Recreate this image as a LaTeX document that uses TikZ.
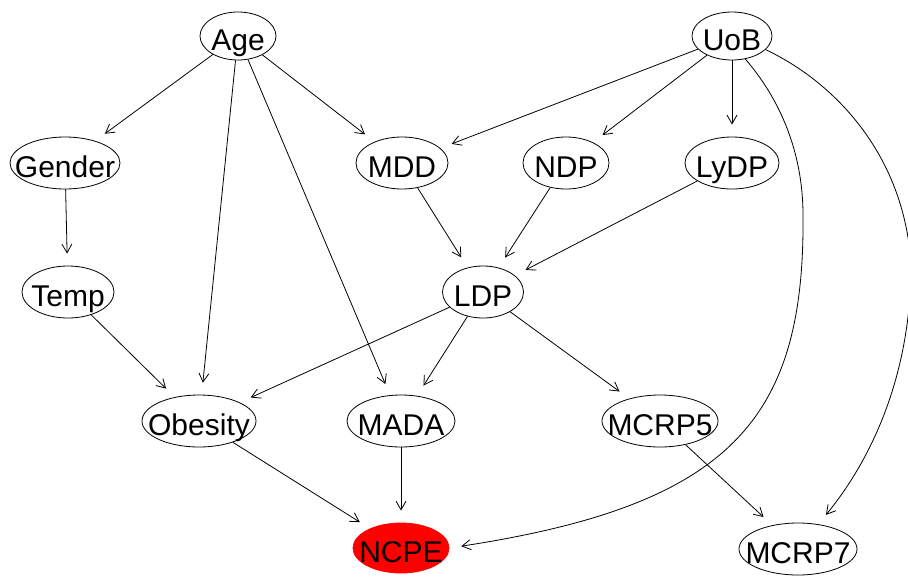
\documentclass[tikz,border=0pt]{standalone}
\usepackage{fontspec}
\setmainfont{Liberation Sans}
\usetikzlibrary{shapes.geometric,arrows.meta}
\newcommand\lbl[1]{\makebox[0pt]{#1}}
\begin{document}
\begin{tikzpicture}[x=1pt,y=-1pt,
  nd/.style={ellipse, draw, line width=0.8pt, inner sep=0pt,
    minimum width=#1, minimum height=52pt,
    text height=30pt, text depth=2pt, font=\fontsize{30}{34}\selectfont},
  edge/.style={line width=0.8pt, -{Straight Barb[length=8.7pt,width=10pt]},
    shorten >=12pt}]
\useasboundingbox (0,0) rectangle (908,579);
\clip (0,0) rectangle (908,579);

% nodes
\node[nd=76pt, minimum height=48pt]  (Age)     at (238,36)  {\lbl{Age}};
\node[nd=80pt, minimum height=48pt]  (UoB)     at (732,36)  {\lbl{UoB}};
\node[nd=110pt] (Gender)  at (65,163)  {\lbl{Gender}};
\node[nd=92pt]  (MDD)     at (402,163) {\lbl{MDD}};
\node[nd=86pt]  (NDP)     at (566,163) {\lbl{NDP}};
\node[nd=94pt]  (LyDP)    at (732,163) {\lbl{LyDP}};
\node[nd=92pt]  (Temp)    at (68,292)  {\lbl{Temp}};
\node[nd=81pt]  (LDP)     at (483,292) {\lbl{LDP}};
\node[nd=114pt] (Obesity) at (199,421) {\lbl{Obesity}};
\node[nd=108pt] (MADA)    at (401,421) {\lbl{MADA}};
\node[nd=116pt] (MCRP5)   at (660,421) {\lbl{MCRP5}};
\node[nd=96pt, minimum height=50pt, draw=red, fill=red] (NCPE) at (401,548) {\lbl{NCPE}};
\node[nd=118pt] (MCRP7)   at (798,549) {\lbl{MCRP7}};

% bend points of the two long arcs
\coordinate (bendA) at (803,215);
\coordinate (bendB) at (911,265);

% edges
\draw[edge] (Age) -- (Gender);
\draw[edge] (Age) -- (MDD);
\draw[edge] (Age) -- (Obesity);
\draw[edge] (Age) -- (MADA);
\draw[edge] (UoB) -- (MDD);
\draw[edge] (UoB) -- (NDP);
\draw[edge] (UoB) -- (LyDP);
\draw[edge] (Gender) -- (Temp);
\draw[edge] (Temp) -- (Obesity);
\draw[edge] (MDD) -- (LDP);
\draw[edge] (NDP) -- (LDP);
\draw[edge] (LyDP) -- (LDP);
\draw[edge] (LDP) -- (Obesity);
\draw[edge] (LDP) -- (MADA);
\draw[edge] (LDP) -- (MCRP5);
\draw[edge] (Obesity) -- (NCPE);
\draw[edge] (MADA) -- (NCPE);
\draw[edge] (MCRP5) -- (MCRP7);
\draw[edge] (UoB.-60) .. controls (785,105) and (803,160) .. (bendA)
  .. controls (805,420) and (730,505) .. (NCPE.east);
\draw[edge] (UoB.-22) .. controls (840,85) and (905,160) .. (bendB)
  .. controls (911,370) and (875,455) .. (MCRP7);
\end{tikzpicture}
\end{document}
